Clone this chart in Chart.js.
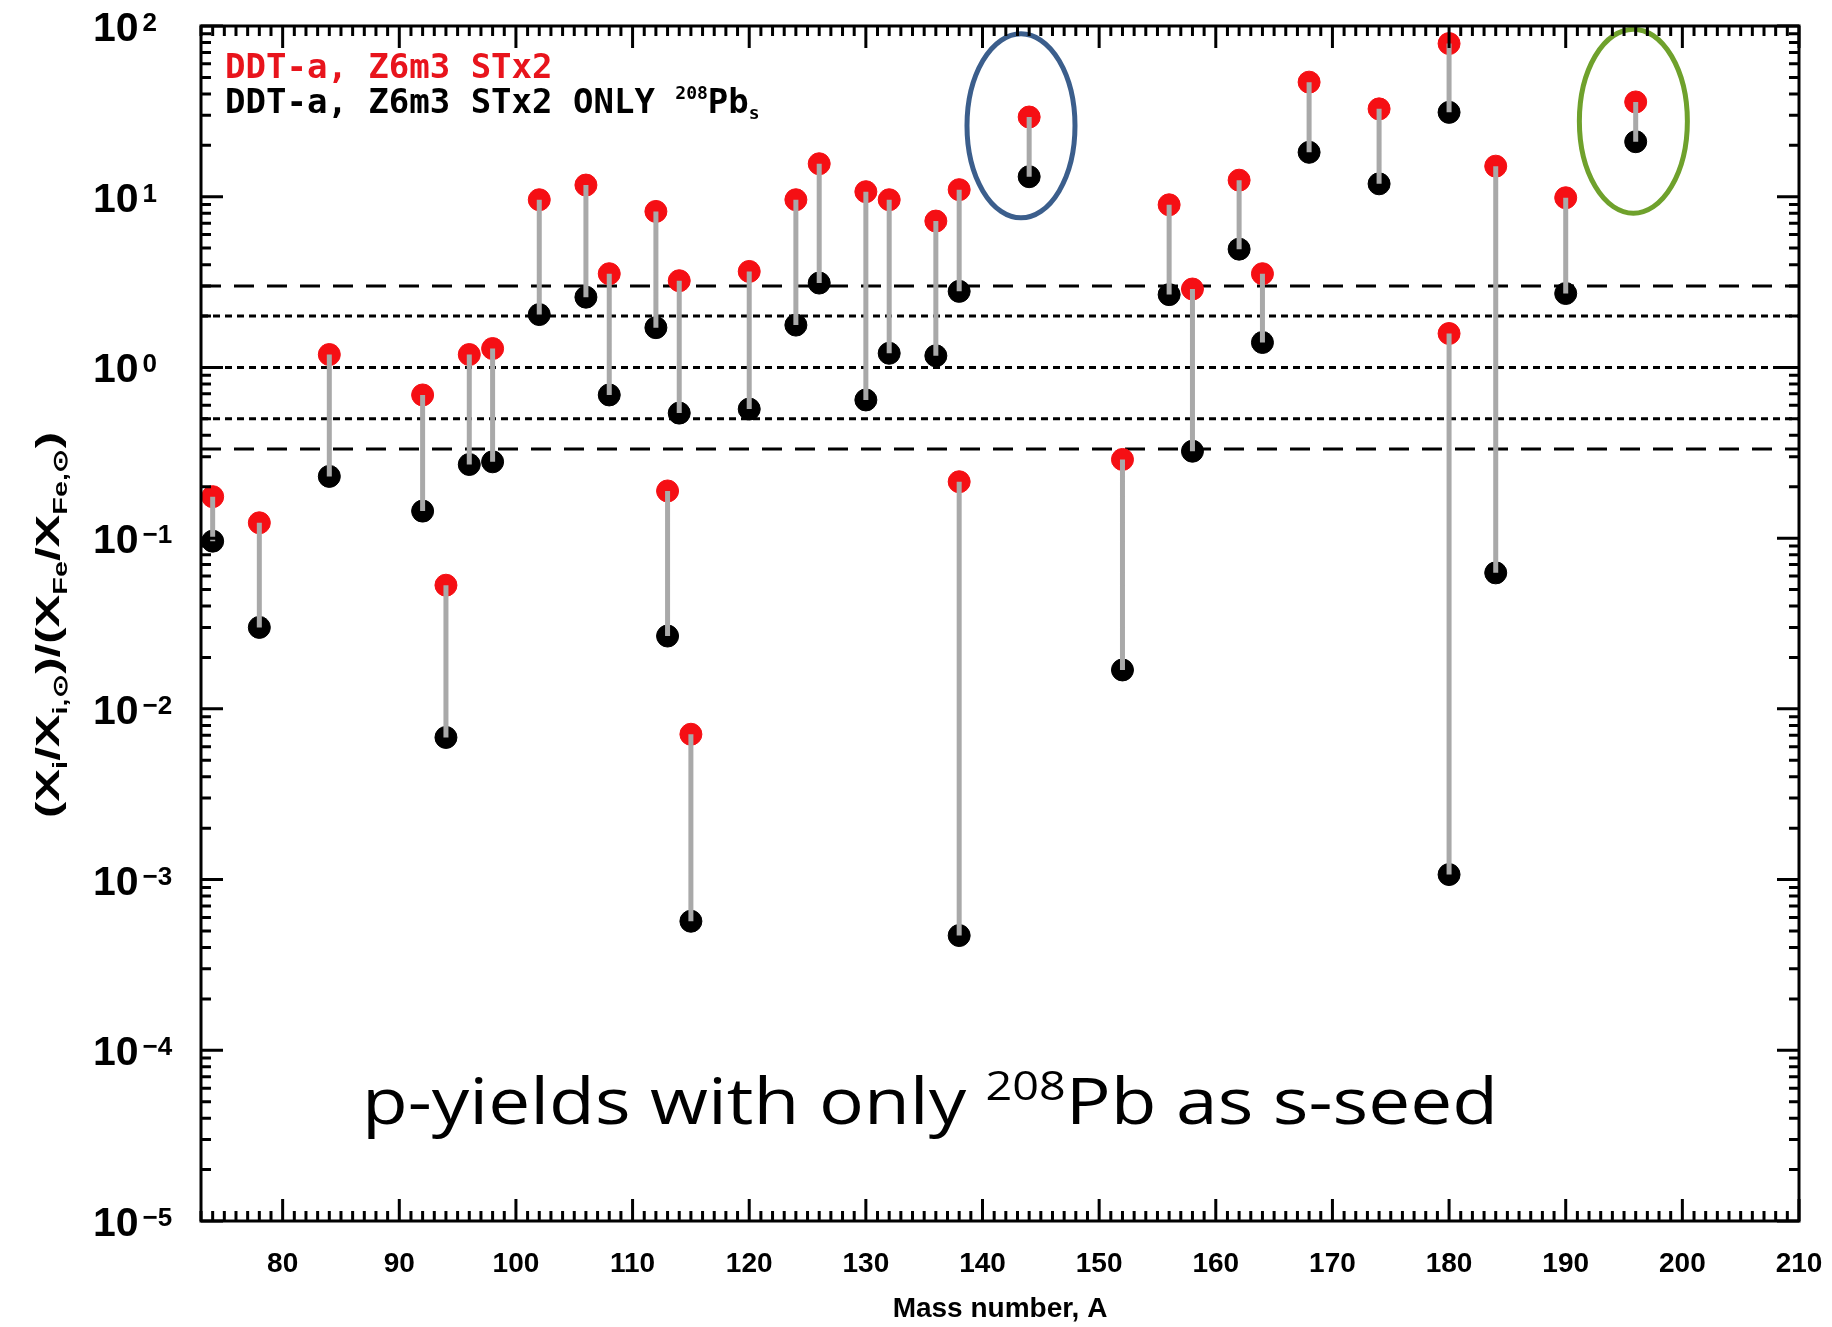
<!DOCTYPE html>
<html>
<head>
<meta charset="utf-8">
<script src="https://cdn.jsdelivr.net/npm/chart.js@4.4.1/dist/chart.umd.min.js"></script>
<style>
  html, body { margin: 0; padding: 0; background: #fff; }
  #wrap { width: 1832px; height: 1327px; }
</style>
</head>
<body>
<div id="wrap"><canvas id="pyields" width="1832" height="1327"></canvas></div>
<script>
// p-nuclei yields
const massNumber = [74, 78, 84, 92, 94, 96, 98, 102, 106, 108, 112, 113, 114, 115, 120, 124, 126, 130, 132, 136, 138, 138, 144, 152, 156, 158, 162, 164, 168, 174, 180, 180, 184, 190, 196]
const yieldsAll = [0.175, 0.123, 1.19, 0.69, 0.053, 1.19, 1.29, 9.6, 11.7, 3.54, 8.2, 0.189, 3.22, 0.0071, 3.65, 9.6, 15.6, 10.7, 9.6, 7.2, 11.0, 0.214, 29.3, 0.289, 8.97, 2.88, 12.5, 3.54, 46.9, 32.7, 78.9, 1.58, 15.1, 9.86, 35.9]
const yieldsPb208 = [0.096, 0.030, 0.23, 0.144, 0.0068, 0.27, 0.28, 2.04, 2.58, 0.69, 1.71, 0.0267, 0.54, 0.00057, 0.57, 1.77, 3.12, 0.645, 1.21, 1.17, 2.79, 0.00047, 13.1, 0.0169, 2.67, 0.323, 4.93, 1.40, 18.2, 11.9, 31.2, 0.00107, 0.0626, 2.71, 21.0]

const refLevels = [3, 2, 1, 0.5, 1 / 3]
const refDashed = [true, false, false, false, true]

const xMin = 73
const xMax = 210
const xTicks = [80, 90, 100, 110, 120, 130, 140, 150, 160, 170, 180, 190, 200, 210]
const yDecades = [1e2, 1e1, 1, 1e-1, 1e-2, 1e-3, 1e-4, 1e-5]

const legendLabels = ['DDT-a, Z6m3 STx2', 'DDT-a, Z6m3 STx2 ONLY ']
const circledMass = [143.3, 195.8]
const circledValue = [26, 27.7]
const noteMass = 86.8
const noteValue = 3.7e-5

const connectorData = []
massNumber.forEach(function (a, i) {
  connectorData.push({ x: a, y: yieldsAll[i] }, { x: a, y: yieldsPb208[i] }, { x: a, y: null })
})

const refSets = refLevels.map(function (v, i) {
  return {
    type: 'line',
    data: [{ x: xMin, y: v }, { x: xMax, y: v }],
    borderColor: '#000',
    borderWidth: 3,
    borderDash: refDashed[i] ? [20, 13] : [7, 5],
    pointRadius: 0,
    order: 3
  }
})

function drawParts(ctx, parts, x, y) {
  let cx = x
  parts.forEach(function (p) {
    ctx.font = p.font
    ctx.fillText(p.t, cx, y + (p.dy || 0))
    cx += ctx.measureText(p.t).width
  })
}

function partsWidth(ctx, parts) {
  let w = 0
  parts.forEach(function (p) {
    ctx.font = p.font
    w += ctx.measureText(p.t).width
  })
  return w
}

const decorations = {
  id: 'decorations',
  afterDatasetsDraw(chart) {
    const ctx = chart.ctx
    const x = chart.scales.x
    const y = chart.scales.y
    const colors = ['#3b5e8c', '#6fa12c']
    ctx.save()
    ctx.lineWidth = 5
    circledMass.forEach(function (a, i) {
      ctx.strokeStyle = colors[i]
      ctx.beginPath()
      ctx.ellipse(x.getPixelForValue(a), y.getPixelForValue(circledValue[i]), 54, 92, 0, 0, Math.PI * 2)
      ctx.stroke()
    })
    ctx.restore()
  },
  afterDraw(chart) {
    const ctx = chart.ctx
    const area = chart.chartArea
    const x = chart.scales.x
    const y = chart.scales.y
    ctx.save()
    ctx.strokeStyle = '#000'
    ctx.lineWidth = 3
    ctx.strokeRect(area.left, area.top, area.right - area.left, area.bottom - area.top)

    // inward ticks on all four sides
    ctx.beginPath()
    for (let a = Math.ceil(x.min); a <= x.max; a++) {
      const px = x.getPixelForValue(a)
      const len = a % 10 === 0 ? 22 : 10
      ctx.moveTo(px, area.bottom); ctx.lineTo(px, area.bottom - len)
      ctx.moveTo(px, area.top); ctx.lineTo(px, area.top + len)
    }
    for (let e = -5; e <= 2; e++) {
      for (let m = 1; m < 10; m++) {
        const v = m * Math.pow(10, e)
        if (v > y.max * 1.0001) continue
        const py = y.getPixelForValue(v)
        const len = m === 1 ? 22 : 10
        ctx.moveTo(area.left, py); ctx.lineTo(area.left + len, py)
        ctx.moveTo(area.right, py); ctx.lineTo(area.right - len, py)
      }
    }
    ctx.stroke()

    // y tick labels 10^n
    ctx.fillStyle = '#000'
    ctx.textAlign = 'left'
    ctx.textBaseline = 'alphabetic'
    yDecades.forEach(function (d) {
      const py = y.getPixelForValue(d)
      const ex = Math.round(Math.log10(d))
      const exText = ex < 0 ? '\u2212' + (-ex) : String(ex)
      ctx.font = 'bold 41px "Liberation Sans"'
      ctx.fillText('10', 93, py + 15)
      const w = ctx.measureText('10').width
      ctx.font = 'bold 26px "Liberation Sans"'
      ctx.fillText(exText, 93 + w + 4, py + 5)
    })

    // y axis title with subscripts
    const main = 'bold 34px "Liberation Sans"'
    const sub = 'bold 20px "Liberation Sans"'
    const titleParts = [
      { t: '(X', font: main }, { t: 'i', font: sub, dy: 8 },
      { t: '/X', font: main }, { t: 'i,\u2299', font: sub, dy: 8 },
      { t: ')/(X', font: main }, { t: 'Fe', font: sub, dy: 8 },
      { t: '/X', font: main }, { t: 'Fe,\u2299', font: sub, dy: 8 },
      { t: ')', font: main }
    ]
    const tw = partsWidth(ctx, titleParts)
    ctx.save()
    ctx.translate(47, 625)
    ctx.rotate(-Math.PI / 2)
    ctx.scale(386 / tw, 1)
    drawParts(ctx, titleParts, -tw / 2, 12)
    ctx.restore()

    // legend text
    const mono = 'bold 34px "DejaVu Sans Mono"'
    const monoSmall = 'bold 18px "DejaVu Sans Mono"'
    ctx.fillStyle = '#e8141c'
    drawParts(ctx, [{ t: legendLabels[0], font: mono }], 225, 78)
    ctx.fillStyle = '#000'
    drawParts(ctx, [
      { t: legendLabels[1], font: mono },
      { t: '208', font: monoSmall, dy: -14 },
      { t: 'Pb', font: mono },
      { t: 's', font: monoSmall, dy: 6 }
    ], 225, 113)

    // note
    const big = '64px "Open Sans"'
    const bigSup = '40px "Open Sans"'
    const noteParts = [
      { t: 'p-yields with only ', font: big },
      { t: '208', font: bigSup, dy: -24 },
      { t: 'Pb as s-seed', font: big }
    ]
    const nw = partsWidth(ctx, noteParts)
    ctx.save()
    ctx.translate(x.getPixelForValue(noteMass), y.getPixelForValue(noteValue))
    ctx.scale(1136 / nw, 1)
    drawParts(ctx, noteParts, 0, 0)
    ctx.restore()
    ctx.restore()
  }
}

const ctx = document.getElementById('pyields').getContext('2d')
const chart = new Chart(ctx, {
  type: 'scatter',
  data: {
    datasets: [
      {
        type: 'line',
        label: 'link',
        data: connectorData,
        borderColor: '#a9a9a9',
        borderWidth: 5,
        pointRadius: 0,
        spanGaps: false,
        order: 0
      },
      {
        label: legendLabels[0],
        data: massNumber.map(function (a, i) { return { x: a, y: yieldsAll[i] } }),
        backgroundColor: '#f50f14',
        borderColor: '#f50f14',
        pointRadius: 11,
        order: 1
      },
      {
        label: legendLabels[1] + '208Pb_s',
        data: massNumber.map(function (a, i) { return { x: a, y: yieldsPb208[i] } }),
        backgroundColor: '#000',
        borderColor: '#000',
        pointRadius: 11,
        order: 2
      }
    ].concat(refSets)
  },
  options: {
    responsive: false,
    animation: false,
    clip: false,
    layout: { padding: { top: 26, right: 33, left: 0, bottom: 0 } },
    plugins: {
      legend: { display: false },
      tooltip: { enabled: false }
    },
    scales: {
      x: {
        type: 'linear',
        min: xMin,
        max: xMax,
        afterBuildTicks: function (s) { s.ticks = xTicks.map(function (v) { return { value: v } }) },
        afterFit: function (s) {
          s.height = 106
          s.paddingLeft = 0
          s.paddingRight = 0
        },
        grid: { display: false, drawTicks: false },
        border: { display: false },
        ticks: {
          color: '#000',
          font: { family: 'Liberation Sans', size: 28, weight: 'bold' },
          padding: 26,
          maxRotation: 0,
          autoSkip: false
        },
        title: {
          display: true,
          text: 'Mass number, A',
          color: '#000',
          font: { family: 'Liberation Sans', size: 28, weight: 'bold' },
          padding: { top: 0, bottom: 1 }
        }
      },
      y: {
        type: 'logarithmic',
        min: 1e-5,
        max: 1e2,
        afterFit: function (s) {
          s.width = 201
          s.paddingTop = 0
          s.paddingBottom = 0
        },
        grid: { display: false, drawTicks: false },
        border: { display: false },
        ticks: { display: false }
      }
    }
  },
  plugins: [decorations]
})
</script>
</body>
</html>
